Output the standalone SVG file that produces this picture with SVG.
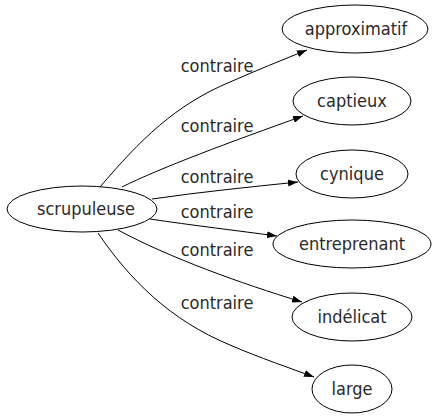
<svg xmlns="http://www.w3.org/2000/svg" width="438" height="419" viewBox="0 0 438 419">
<style>
.node ellipse{fill:#fff;stroke:#000;stroke-width:1}
text{font-family:"DejaVu Sans Condensed","DejaVu Sans",sans-serif;font-stretch:condensed;font-size:18px;fill:#2a2a2a;text-anchor:middle}
.edge path{fill:none;stroke:#000;stroke-width:1}
</style>
<defs>
<marker id="arr" viewBox="0 0 10 7" refX="10" refY="3.5" markerWidth="10" markerHeight="7" markerUnits="userSpaceOnUse" orient="auto">
<path d="M0,0 L10,3.5 L0,7 Z" fill="#000"/>
</marker>
</defs>
<rect width="438" height="419" fill="#fff"/>
<g id="edges" class="edge">
<path d="M100,187 C140,140 175,105 230,82 C255,71 282,60 307,50" marker-end="url(#arr)"/>
<path d="M122,187 C160,168 230,142 303,116" marker-end="url(#arr)"/>
<path d="M152,199 C200,192 250,187 298,182" marker-end="url(#arr)"/>
<path d="M150,219 C190,225 240,231 277,236" marker-end="url(#arr)"/>
<path d="M118,230 C170,258 240,283 302,302" marker-end="url(#arr)"/>
<path d="M98,233 C130,280 170,320 230,345 C260,358 290,368 314,377" marker-end="url(#arr)"/>
<text x="217" y="72">contraire</text>
<text x="217" y="132">contraire</text>
<text x="217" y="183">contraire</text>
<text x="217" y="218">contraire</text>
<text x="217" y="256">contraire</text>
<text x="217" y="309">contraire</text>
</g>
<g id="scrupuleuse" class="node"><ellipse cx="82" cy="209" rx="75" ry="23"/><text x="86" y="215">scrupuleuse</text></g>
<g id="approximatif" class="node"><ellipse cx="355" cy="29" rx="73" ry="24"/><text x="356" y="35">approximatif</text></g>
<g id="captieux" class="node"><ellipse cx="352" cy="101" rx="59" ry="24"/><text x="352" y="107">captieux</text></g>
<g id="cynique" class="node"><ellipse cx="352" cy="174" rx="56" ry="24"/><text x="352" y="180">cynique</text></g>
<g id="entreprenant" class="node"><ellipse cx="352" cy="244" rx="79" ry="24"/><text x="352" y="250">entreprenant</text></g>
<g id="indelicat" class="node"><ellipse cx="352" cy="317" rx="60" ry="24"/><text x="352" y="323">indélicat</text></g>
<g id="large" class="node"><ellipse cx="352" cy="389" rx="40" ry="24"/><text x="352" y="395">large</text></g>
</svg>
